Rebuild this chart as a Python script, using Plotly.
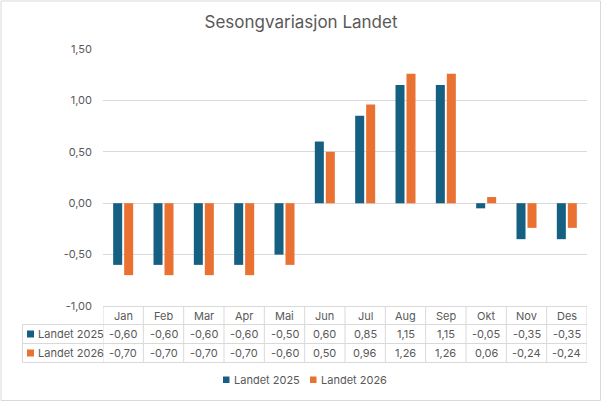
import plotly.graph_objects as go

months = ["Jan", "Feb", "Mar", "Apr", "Mai", "Jun", "Jul", "Aug", "Sep", "Okt", "Nov", "Des"]
series_names = ["Landet 2025", "Landet 2026"]
landet_2025 = [-0.60, -0.60, -0.60, -0.60, -0.50, 0.60, 0.85, 1.15, 1.15, -0.05, -0.35, -0.35]
landet_2026 = [-0.70, -0.70, -0.70, -0.70, -0.60, 0.50, 0.96, 1.26, 1.26, 0.06, -0.24, -0.24]
y_ticks = [-1.0, -0.5, 0.0, 0.5, 1.0, 1.5]
y_tick_labels = ["-1,00", "-0,50", "0,00", "0,50", "1,00", "1,50"]
title_text = "Sesongvariasjon Landet"

colors = ["#156082", "#E97132"]
grid = "#D9D9D9"
txt = "#595959"
FONT = "Inter"

W, H = 602, 402
L, R, T, B = 103, 15, 49, 96
PW, PH = W - L - R, H - T - B
PB = H - B  # plot bottom in px


def fx(px):
    return (px - L) / PW


def fy(py):
    return (PB - py) / PH


def fmt(v):
    s = f"{v:.2f}".replace(".", ",")
    return s


fig = go.Figure()
for name, vals, c in zip(series_names, [landet_2025, landet_2026], colors):
    fig.add_trace(go.Bar(x=months, y=vals, name=name, marker=dict(color=c, line=dict(width=0)),
                         showlegend=False))

shapes = []
annotations = []

# table geometry (px)
row_lines = [306.5, 324.5, 343.5, 362.5]
label_left = 22.5
n = len(months)

# horizontal table lines
shapes.append(dict(type="line", xref="x", yref="paper", x0=-0.5, x1=n - 0.5,
                   y0=fy(row_lines[0]), y1=fy(row_lines[0]), line=dict(color=grid, width=1)))
for ry in row_lines[1:]:
    shapes.append(dict(type="line", xref="paper", yref="paper", x0=fx(label_left), x1=1,
                       y0=fy(ry), y1=fy(ry), line=dict(color=grid, width=1)))
# vertical table lines
for i in range(n + 1):
    shapes.append(dict(type="line", xref="x", yref="paper", x0=i - 0.5, x1=i - 0.5,
                       y0=fy(row_lines[0]), y1=fy(row_lines[3]), line=dict(color=grid, width=1)))
shapes.append(dict(type="line", xref="paper", yref="paper", x0=fx(label_left), x1=fx(label_left),
                   y0=fy(row_lines[1]), y1=fy(row_lines[3]), line=dict(color=grid, width=1)))

# header
hy = (row_lines[0] + row_lines[1]) / 2
for m in months:
    annotations.append(dict(x=m, y=fy(hy), xref="x", yref="paper", text=m, showarrow=False,
                            font=dict(family=FONT, size=11, color=txt), xanchor="center", yanchor="middle"))
# data rows
for r, (name, vals, c) in enumerate(zip(series_names, [landet_2025, landet_2026], colors)):
    cy = (row_lines[r + 1] + row_lines[r + 2]) / 2
    for m, v in zip(months, vals):
        annotations.append(dict(x=m, y=fy(cy), xref="x", yref="paper", text=fmt(v), showarrow=False,
                                font=dict(family=FONT, size=11, color=txt), xanchor="center", yanchor="middle"))
    shapes.append(dict(type="rect", xref="paper", yref="paper", x0=fx(27), x1=fx(34),
                       y0=fy(cy - 3.5), y1=fy(cy + 3.5), fillcolor=c, line=dict(width=0)))
    annotations.append(dict(x=fx(35.5), y=fy(cy), xref="paper", yref="paper", text=name, showarrow=False,
                            font=dict(family=FONT, size=11, color=txt), xanchor="left", yanchor="middle"))

# legend (manual)
ly = 380
leg_x = [(223, 231.5), (310, 318.5)]
for (sx, tx), name, c in zip(leg_x, series_names, colors):
    shapes.append(dict(type="rect", xref="paper", yref="paper", x0=fx(sx), x1=fx(sx + 6.5),
                       y0=fy(ly - 3.5), y1=fy(ly + 3), fillcolor=c, line=dict(width=0)))
    annotations.append(dict(x=fx(tx), y=fy(ly), xref="paper", yref="paper", text=name, showarrow=False,
                            font=dict(family=FONT, size=11, color=txt), xanchor="left", yanchor="middle"))

# chart border
shapes.append(dict(type="rect", xref="paper", yref="paper", x0=fx(1), x1=fx(600.5),
                   y0=fy(400.5), y1=fy(1), line=dict(color=grid, width=1), fillcolor="rgba(0,0,0,0)"))

fig.update_layout(
    width=W, height=H,
    margin=dict(l=L, r=R, t=T, b=B, pad=0),
    paper_bgcolor="white", plot_bgcolor="white",
    title=dict(text=title_text, x=0.5, xref="container", xanchor="center", y=1 - 22 / H, yref="container",
               yanchor="middle", font=dict(family=FONT, size=17, color=txt)),
    barmode="group", bargap=0.455, bargroupgap=0.18,
    font=dict(family=FONT, size=11, color=txt),
    shapes=shapes, annotations=annotations,
    showlegend=False,
)
fig.update_xaxes(showticklabels=False, showgrid=False, zeroline=False, showline=False, ticks="",
                 range=[-0.5, n - 0.5])
fig.update_yaxes(range=[-1.0, 1.5], tickvals=y_ticks, ticktext=y_tick_labels, showgrid=True,
                 gridcolor=grid, gridwidth=1, zeroline=False, showline=False, ticks="",
                 ticklabelstandoff=10, tickfont=dict(family=FONT, size=11, color=txt))

fig.write_html("out.html", config={"displayModeBar": False},
               post_script="document.body.style.margin='0';document.body.style.overflow='hidden';")
